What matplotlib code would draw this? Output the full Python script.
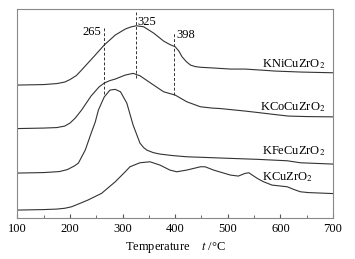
import matplotlib.pyplot as plt
from matplotlib.ticker import MultipleLocator

plt.rcParams['font.family'] = ['Liberation Serif', 'DejaVu Serif']
plt.rcParams['mathtext.fontset'] = 'stix'

# TPR-like curves, arbitrary intensity
t_ni = [100, 150, 175, 190, 200, 212, 222, 235, 248, 265, 286, 305, 315, 326, 340, 359, 378, 390, 400, 407, 413, 421, 429, 438, 448, 475, 505, 533, 571, 590, 640, 700]
y_ni = [133, 133.5, 134.5, 136, 138.5, 142.5, 148, 155.5, 163, 173, 183, 189, 191, 192.3, 191.3, 185, 177, 173.5, 171.3, 167, 161.3, 156.5, 153, 151.5, 150.8, 150, 149, 149, 147.7, 147, 146, 145.3]

t_co = [100, 150, 175, 190, 200, 210, 222, 240, 255, 265, 276, 286, 305, 320, 333, 345, 359, 378, 400, 422, 448, 470, 486, 533, 558, 590, 615, 650, 700]
y_co = [89.5, 90, 90.5, 92, 95, 100, 108, 122, 131, 135, 137.5, 139, 143, 144.7, 142.3, 138, 133, 126.3, 123, 116.3, 111.3, 110, 109.5, 107, 105.5, 103.5, 102, 101.5, 101.2]

t_fe = [100, 150, 180, 195, 208, 216, 229, 241, 248, 254, 265, 276, 286, 296, 308, 320, 333, 340, 346, 358, 371, 395, 422, 505, 558, 613, 638, 700]
y_fe = [45, 45.5, 46.5, 48.5, 52, 55, 68, 86, 96, 108, 121, 128, 128.7, 126.3, 115, 93, 75, 70.5, 68, 65.5, 64, 62.5, 61.3, 59.7, 58.7, 57.3, 55.3, 54]

t_cu = [100, 150, 175, 190, 203, 218, 234, 260, 286, 305, 314, 333, 352, 371, 390, 403, 422, 448, 457, 473, 505, 520, 533, 540, 556, 568, 584, 613, 625, 638, 653, 700]
y_cu = [8, 8.5, 9, 9.8, 11.3, 14.5, 18, 24.7, 36.3, 46.3, 51.3, 55.3, 56.3, 53, 48, 46.3, 48, 51.3, 51.3, 48, 43, 42, 44.7, 45.3, 39.7, 36.3, 33, 31.3, 28.7, 26.3, 25.5, 24.5]

names = ['KNiCuZrO$_2$', 'KCoCuZrO$_2$', 'KFeCuZrO$_2$', 'KCuZrO$_2$']
peaks = [265, 325, 398]

fig = plt.figure(figsize=(3.55, 2.59), dpi=100)
ax = fig.add_axes([0.049, 0.158, 0.889, 0.807])

for t, y in [(t_ni, y_ni), (t_co, y_co), (t_fe, y_fe), (t_cu, y_cu)]:
    ax.plot(t, y, color='#333333', lw=0.8)

# dashed markers for the KNi peaks
ax.plot([peaks[0]] * 2, [124, 191], color='#333333', lw=0.7, ls=(0, (3, 2)))
ax.plot([peaks[1]] * 2, [140, 206], color='#333333', lw=0.7, ls=(0, (3, 2)))
ax.plot([peaks[2]] * 2, [123, 186], color='#333333', lw=0.7, ls=(0, (3, 2)))
ax.text(peaks[0] - 5, 186, str(peaks[0]), ha='right', va='center', fontsize=9)
ax.text(peaks[1] + 3, 196, str(peaks[1]), ha='left', va='center', fontsize=9)
ax.text(peaks[2] + 4, 183, str(peaks[2]), ha='left', va='center', fontsize=9)

ax.text(685, 154, names[0], ha='right', va='center', fontsize=9)
ax.text(685, 111, names[1], ha='right', va='center', fontsize=9)
ax.text(685, 67, names[2], ha='right', va='center', fontsize=9)
ax.text(565, 41, names[3], ha='left', va='center', fontsize=9)

ax.set_xlim(100, 700)
ax.set_ylim(0, 209)
ax.set_yticks([])
ax.xaxis.set_major_locator(MultipleLocator(100))
ax.xaxis.set_minor_locator(MultipleLocator(50))
ax.tick_params(axis='x', which='both', direction='in', labelsize=9, color='#555555')
ax.tick_params(axis='x', which='major', length=3)
ax.tick_params(axis='x', which='minor', length=2)
for s in ax.spines.values():
    s.set_color('#888888')
    s.set_linewidth(0.8)

ax.set_xlabel('Temperature    $t$ /°C', fontsize=9, labelpad=4)

fig.savefig('out.png', dpi=100)
